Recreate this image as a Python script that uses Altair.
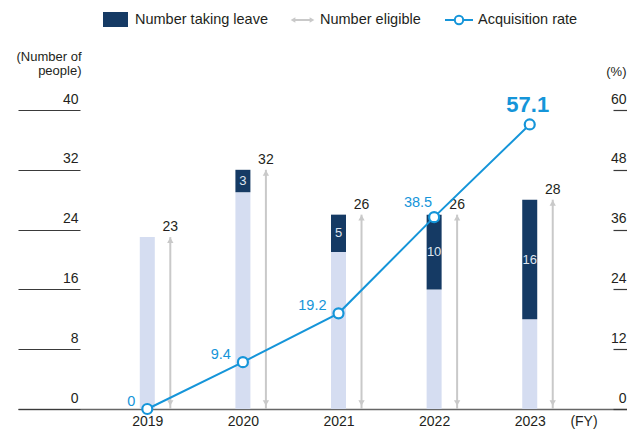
import altair as alt
import pandas as pd

# ---- data ----
years = [2019, 2020, 2021, 2022, 2023]
eligible = [23, 32, 26, 26, 28]          # Number eligible
taking_leave = [0, 3, 5, 10, 16]         # Number taking leave
rate = [0.0, 9.4, 19.2, 38.5, 57.1]      # Acquisition rate (%)
rate_text = ["0", "9.4", "19.2", "38.5", "57.1"]
left_ticks = [0, 8, 16, 24, 32, 40]
right_ticks = [0, 12, 24, 36, 48, 60]
legend_labels = ["Number taking leave", "Number eligible", "Acquisition rate"]

NAVY = "#153a64"
LIGHT = "#d5ddf1"
GREY = "#c9c9c9"
BLUE = "#1595d9"
TEXT = "#231f20"
FONT = "Liberation Sans"

df = pd.DataFrame({"year": years, "eligible": eligible, "leave": taking_leave,
                   "rate": rate, "rate_text": rate_text})
df["base"] = df["eligible"] - df["leave"]
df["mid"] = df["base"] + df["leave"] / 2
df["zero"] = 0

W, H = 609, 299
LY = -90  # legend row, relative to plot top

x_enc = alt.X("year:Q",
              scale=alt.Scale(domain=[2017.70, 2023.965], nice=False, zero=False),
              axis=alt.Axis(values=years, format="d", ticks=False, domainColor="#666666",
                            domainWidth=1.5, labelFontSize=14, labelColor=TEXT,
                            labelPadding=5, grid=False, title=None, labelFont=FONT))

yL = alt.Scale(domain=[0, 40], nice=False, zero=True)
yR = alt.Scale(domain=[0, 60], nice=False, zero=True)

left_axis = alt.Axis(orient="left", values=left_ticks, offset=-62, tickSize=62,
                     tickColor="#3a3a3a", tickWidth=1.2, domain=False, grid=False,
                     labelAlign="right", labelBaseline="alphabetic", labelOffset=-7,
                     labelPadding=-60, labelFontSize=14, labelColor=TEXT, labelFont=FONT,
                     title=["(Number of", "people)"], titleAngle=0, titleAlign="right",
                     titleBaseline="alphabetic", titleX=1, titleY=-50, titleFontSize=13,
                     titleFontWeight="normal", titleColor=TEXT, titleFont=FONT,
                     titleLineHeight=14)

right_axis = alt.Axis(orient="right", values=right_ticks, offset=-14, tickSize=14,
                      tickColor="#3a3a3a", tickWidth=1.2, domain=False, grid=False,
                      labelAlign="right", labelBaseline="alphabetic", labelOffset=-7,
                      labelPadding=-1, labelFontSize=14, labelColor=TEXT, labelFont=FONT,
                      title="(%)", titleAngle=0, titleAlign="right",
                      titleBaseline="alphabetic", titleX=13, titleY=-35, titleFontSize=13,
                      titleFontWeight="normal", titleColor=TEXT, titleFont=FONT)


def YL(field):
    return alt.Y(field, type="quantitative", scale=yL, axis=left_axis)


def YR(field):
    return alt.Y(field, type="quantitative", scale=yR, axis=right_axis)


base = alt.Chart(df)

light = base.mark_bar(width=15, color=LIGHT).encode(x=x_enc, y=YL("zero"), y2="base:Q")
dark = base.transform_filter("datum.leave > 0").mark_bar(width=15, color=NAVY).encode(
    x=x_enc, y=YL("base"), y2="eligible:Q")
dark_lbl = base.transform_filter("datum.leave > 0").mark_text(
    color="#dfe5ef", fontSize=13, baseline="middle", font=FONT).encode(
    x=x_enc, y=YL("mid"), text="leave:Q")

arrow_rule = base.mark_rule(color=GREY, strokeWidth=2, xOffset=23).encode(
    x=x_enc, y=YL("zero"), y2="eligible:Q")
arrow_top = base.mark_point(shape="triangle-up", filled=True, color=GREY, opacity=1,
                            size=40, xOffset=23, yOffset=3.2).encode(x=x_enc, y=YL("eligible"))
arrow_bot = base.mark_point(shape="triangle-down", filled=True, color=GREY, opacity=1,
                            size=40, xOffset=23, yOffset=-6).encode(x=x_enc, y=YL("zero"))
elig_lbl = base.mark_text(dx=23, dy=-6, baseline="alphabetic", fontSize=14, color=TEXT,
                          font=FONT).encode(x=x_enc, y=YL("eligible"), text="eligible:Q")

left_group = alt.layer(light, dark, dark_lbl, arrow_rule, arrow_top, arrow_bot, elig_lbl)

line = base.mark_line(color=BLUE, strokeWidth=2).encode(x=x_enc, y=YR("rate"))
pts = base.mark_point(shape="circle", filled=True, fill="white", stroke=BLUE,
                      strokeWidth=2.2, size=100, opacity=1).encode(x=x_enc, y=YR("rate"))
lbl_a = base.transform_filter("datum.year <= 2021").mark_text(
    align="right", baseline="alphabetic", dx=-12, dy=-3, fontSize=14.5, color=BLUE,
    font=FONT).encode(x=x_enc, y=YR("rate"), text="rate_text:N")
lbl_b = base.transform_filter("datum.year == 2022").mark_text(
    align="right", baseline="alphabetic", dx=-2, dy=-10, fontSize=14.5, color=BLUE,
    font=FONT).encode(x=x_enc, y=YR("rate"), text="rate_text:N")
lbl_c = base.transform_filter("datum.year == 2023").mark_text(
    align="center", baseline="alphabetic", dx=-2, dy=-12, fontSize=22, fontWeight="bold",
    color=BLUE, font=FONT).encode(x=x_enc, y=YR("rate"), text="rate_text:N")

right_group = alt.layer(line, pts, lbl_a, lbl_b, lbl_c)

# ---- hand-built legend and extra labels ----
one = alt.Chart(pd.DataFrame({"k": [0]}))
leg_rect = one.mark_rect(color=NAVY).encode(
    x=alt.value(85), x2=alt.value(110), y=alt.value(LY - 8), y2=alt.value(LY + 7))
leg_t1 = one.mark_text(align="left", baseline="middle", fontSize=14.5, color=TEXT, font=FONT,
                       text=legend_labels[0]).encode(x=alt.value(117), y=alt.value(LY))
leg_arrow = one.mark_rule(color=GREY, strokeWidth=2).encode(
    x=alt.value(275), x2=alt.value(294), y=alt.value(LY))
leg_al = one.mark_point(shape="triangle-left", filled=True, color=GREY, opacity=1,
                        size=30).encode(x=alt.value(275), y=alt.value(LY))
leg_ar = one.mark_point(shape="triangle-right", filled=True, color=GREY, opacity=1,
                        size=30).encode(x=alt.value(294), y=alt.value(LY))
leg_t2 = one.mark_text(align="left", baseline="middle", fontSize=14.5, color=TEXT, font=FONT,
                       text=legend_labels[1]).encode(x=alt.value(302), y=alt.value(LY))
leg_line = one.mark_rule(color=BLUE, strokeWidth=2).encode(
    x=alt.value(427), x2=alt.value(455), y=alt.value(LY))
leg_pt = one.mark_point(shape="circle", filled=True, fill="white", stroke=BLUE,
                        strokeWidth=2, size=70, opacity=1).encode(x=alt.value(441), y=alt.value(LY))
leg_t3 = one.mark_text(align="left", baseline="middle", fontSize=14.5, color=TEXT, font=FONT,
                       text=legend_labels[2]).encode(x=alt.value(460), y=alt.value(LY))
fy = one.mark_text(align="center", baseline="middle", fontSize=14, color=TEXT, font=FONT,
                   text="(FY)").encode(x=alt.value(566), y=alt.value(H + 13))

legend_group = alt.layer(leg_rect, leg_t1, leg_arrow, leg_al, leg_ar, leg_t2,
                         leg_line, leg_pt, leg_t3, fy)

chart = alt.layer(left_group, right_group, legend_group).resolve_scale(
    y="independent"
).properties(
    width=W, height=H,
    autosize=alt.AutoSizeParams(type="none"),
    padding={"left": 10, "top": 102, "right": 0, "bottom": 20},
).configure_view(stroke=None).configure_text(font=FONT)

chart.save("out.html", embed_options={"renderer": "svg", "actions": False})
